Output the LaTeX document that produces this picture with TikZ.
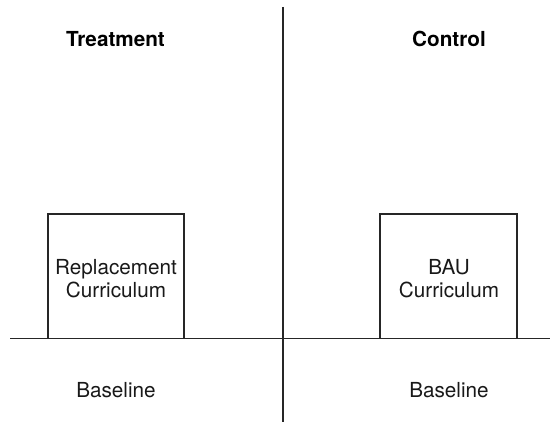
\documentclass[tikz,border=0pt]{standalone}
\usepackage{fontspec}
\setmainfont{TeX Gyre Heros}
\begin{document}
\begin{tikzpicture}[x=1pt,y=1pt,
  axis/.style={line width=1.6pt, draw=black!85},
  armbox/.style={draw=black!85, line width=1.6pt},
  lbl/.style={font=\fontsize{20.7}{23}\selectfont, align=center, text=black!90},
  head/.style={font=\fontsize{20.7}{23}\selectfont\bfseries, text=black}]
\useasboundingbox (0,0) rectangle (550,426);
\fill[white] (0,0) rectangle (550,426);
\coordinate (vtop) at (283,419);
\coordinate (vbot) at (283,4);
\coordinate (hl) at (10,87.5);
\coordinate (hr) at (550,87.5);
\draw[armbox] (48,87.5) -- (48,212) -- (184,212) -- (184,87.5);
\draw[armbox] (380,87.5) -- (380,212) -- (517,212) -- (517,87.5);
\draw[axis] (vtop) -- (vbot);
\draw[axis] (hl) -- (hr);
\node[head, anchor=base] (treat) at (115.5,379.3) {Treatment};
\node[head, anchor=base] (ctrl) at (449,379.3) {Control};
\node[lbl] (repl) at (116,147) {Replacement\\Curriculum};
\node[lbl] (bau) at (449,147) {BAU\\Curriculum};
\node[lbl, anchor=base] (base1) at (116,28) {Baseline};
\node[lbl, anchor=base] (base2) at (449,28) {Baseline};
\end{tikzpicture}
\end{document}
